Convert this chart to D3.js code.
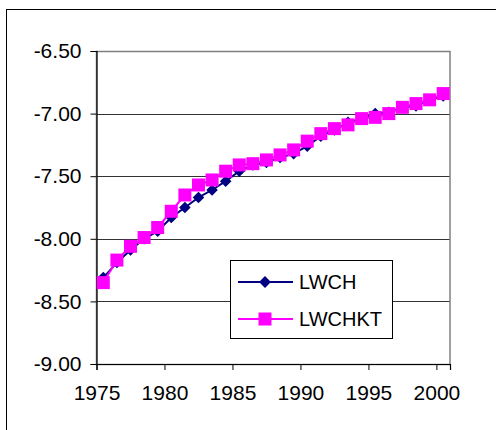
<!DOCTYPE html>
<html><head><meta charset="utf-8">
<script src="https://cdn.jsdelivr.net/npm/d3@7"></script>
<style>
html,body{margin:0;padding:0;background:#fff;}
svg{display:block;font-family:"Liberation Sans",Arial,sans-serif;}
</style></head>
<body>
<svg id="chart" width="496" height="430"></svg>
<script>
const years = [1975,1976,1977,1978,1979,1980,1981,1982,1983,1984,1985,1986,1987,1988,1989,1990,1991,1992,1993,1994,1995,1996,1997,1998,1999,2000];
const lwch = [-8.31,-8.19,-8.09,-8.00,-7.94,-7.83,-7.75,-7.67,-7.61,-7.54,-7.46,-7.41,-7.39,-7.35,-7.32,-7.26,-7.18,-7.13,-7.07,-7.04,-7.00,-6.99,-6.95,-6.94,-6.89,-6.86];
const lwchkt = [-8.35,-8.17,-8.06,-7.99,-7.91,-7.78,-7.65,-7.57,-7.53,-7.46,-7.41,-7.40,-7.37,-7.33,-7.29,-7.22,-7.16,-7.12,-7.09,-7.04,-7.03,-7.00,-6.95,-6.92,-6.89,-6.84];
const yTicks = [-9.0,-8.5,-8.0,-7.5,-7.0,-6.5];
const xTicks = [1975,1980,1985,1990,1995,2000];
const seriesNames = ["LWCH","LWCHKT"];
const seriesColors = ["#000080","#FF00FF"];

const svg = d3.select("#chart");
const L = 96.5, R = 450, T = 51, B = 364;
const x = d3.scaleLinear().domain([1975, 2001]).range([L, R]);
const y = d3.scaleLinear().domain([-9, -6.5]).range([B, T]);

// outer chart border
svg.append("rect").attr("x",6.5).attr("y",9.5).attr("width",600).attr("height",600)
  .attr("fill","none").attr("stroke","#000").attr("stroke-width",1);

// gridlines
svg.append("g").selectAll("line").data(yTicks.filter(d => d > -9 && d < -6.5)).join("line")
  .attr("x1",L).attr("x2",R)
  .attr("y1",d => Math.round(y(d))+0.5).attr("y2",d => Math.round(y(d))+0.5)
  .attr("stroke","#333").attr("stroke-width",1);

// plot area border (gray)
svg.append("rect").attr("x",L).attr("y",Math.round(y(-6.5))+0.5)
  .attr("width",R-L).attr("height",Math.round(y(-9))-Math.round(y(-6.5)))
  .attr("fill","none").attr("stroke","#808080").attr("stroke-width",1.5);

// y axis
const yAxis = d3.axisLeft(y).tickValues(yTicks).tickFormat(d3.format(".2f")).tickSize(6).tickPadding(9);
const gy = svg.append("g").attr("transform",`translate(${L},0)`).call(yAxis);
gy.select(".domain").attr("stroke","#000").attr("stroke-width",1.2);
gy.selectAll(".tick line").attr("stroke","#000");
gy.selectAll(".tick text").attr("font-size",21).attr("fill","#000")
  .attr("font-family","'Liberation Sans',Arial,sans-serif").text(d => d3.format(".2f")(d).replace("−","-"));

// x axis
const xAxis = d3.axisBottom(x).tickValues(xTicks).tickFormat(d3.format("d")).tickSize(6).tickPadding(15);
const gx = svg.append("g").attr("transform",`translate(0,${B})`).call(xAxis);
gx.select(".domain").attr("stroke","#000").attr("stroke-width",1.2);
gx.selectAll(".tick line").attr("stroke","#000");
gx.selectAll(".tick text").attr("font-size",21).attr("fill","#000")
  .attr("font-family","'Liberation Sans',Arial,sans-serif");

// series
const diamond = d3.symbol().type(d3.symbolDiamond2).size(85);
const square = d3.symbol().type(d3.symbolSquare).size(169);
const line = d3.line().x(d => x(d[0] + 0.5)).y(d => y(d[1]));

const d1 = years.map((yr,i) => [yr, lwch[i]]);
const d2 = years.map((yr,i) => [yr, lwchkt[i]]);

svg.append("path").datum(d1).attr("d",line).attr("fill","none")
  .attr("stroke",seriesColors[0]).attr("stroke-width",2);
svg.append("g").selectAll("path").data(d1).join("path")
  .attr("d",diamond).attr("fill",seriesColors[0])
  .attr("transform",d => `translate(${x(d[0]+0.5)},${y(d[1])})`);

svg.append("path").datum(d2).attr("d",line).attr("fill","none")
  .attr("stroke",seriesColors[1]).attr("stroke-width",2);
svg.append("g").selectAll("path").data(d2).join("path")
  .attr("d",square).attr("fill",seriesColors[1])
  .attr("transform",d => `translate(${x(d[0]+0.5)},${y(d[1])})`);

// legend
const lg = svg.append("g");
lg.append("rect").attr("x",230.5).attr("y",260.5).attr("width",162).attr("height",78)
  .attr("fill","#fff").attr("stroke","#000").attr("stroke-width",1);
const rowsY = [282, 319];
seriesNames.forEach((name,i) => {
  const g = lg.append("g");
  g.append("line").attr("x1",238).attr("x2",293).attr("y1",rowsY[i]).attr("y2",rowsY[i])
    .attr("stroke",seriesColors[i]).attr("stroke-width",2);
  g.append("path").attr("d", i === 0 ? d3.symbol().type(d3.symbolDiamond2).size(90)() : square())
    .attr("fill",seriesColors[i]).attr("transform",`translate(265,${rowsY[i]})`);
  g.append("text").attr("x",299).attr("y",rowsY[i]).attr("dy","0.36em")
    .attr("font-size",20).attr("fill","#000").text(name);
});
</script>
</body></html>
